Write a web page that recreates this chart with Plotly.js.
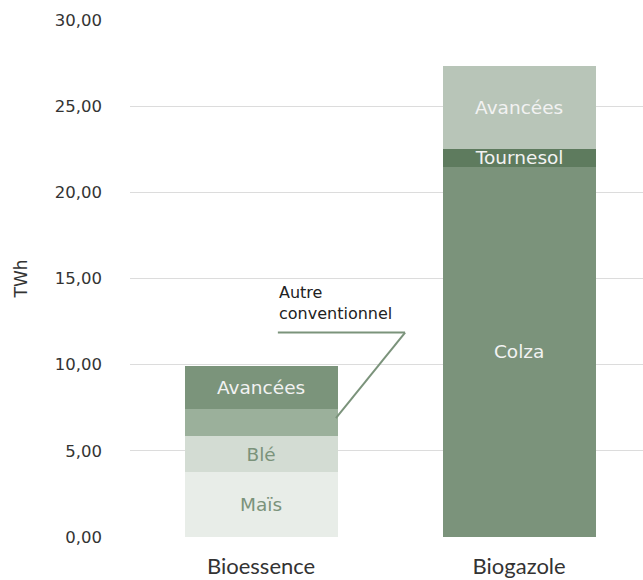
<!DOCTYPE html>
<html><head><meta charset="utf-8">
<script src="https://cdn.plot.ly/plotly-3.0.1.min.js"></script>
<style>html,body{margin:0;padding:0;background:#fff;}#chart{width:643px;height:580px;}</style>
</head><body><div id="chart"></div>
<script>
const categories = ["Bioessence", "Biogazole"];
const mais = [3.77, null];
const ble = [2.09, null];
const autreConv = [1.57, null];
const avanceesEss = [2.49, null];
const colza = [null, 21.49];
const tournesol = [null, 1.05];
const avanceesGaz = [null, 4.81];
const yTicks = [0, 5, 10, 15, 20, 25, 30];
const yTickLabels = ["0,00", "5,00", "10,00", "15,00", "20,00", "25,00", "30,00"];

function seg(name, vals, color, label, txtColor) {
  return {
    type: "bar", name: name, x: categories, y: vals,
    marker: {color: color, line: {width: 0}},
    text: vals.map(v => v == null ? "" : label),
    textposition: label ? "inside" : "none",
    insidetextanchor: "middle",
    textfont: {family: "'DejaVu Sans', sans-serif", size: 18.5, color: txtColor},
    hoverinfo: "name+y", width: 0.593
  };
}
const data = [
  seg("Maïs", mais, "#e8ede8", "Maïs", "#7b937b"),
  seg("Blé", ble, "#d3dcd3", "Blé", "#7b937b"),
  seg("Autre conventionnel", autreConv, "#9bb09b", "", "#fff"),
  seg("Avancées", avanceesEss, "#7b947b", "Avancées", "#f2f2f2"),
  seg("Colza", colza, "#7b937b", "Colza", "#f2f2f2"),
  seg("Tournesol", tournesol, "#5e7b5e", "Tournesol", "#f2f2f2"),
  seg("Avancées ", avanceesGaz, "#b8c5b8", "Avancées", "#f2f2f2")
];
const layout = {
  width: 643, height: 580,
  margin: {l: 130, r: 0, t: 20, b: 43},
  paper_bgcolor: "#fff", plot_bgcolor: "#fff",
  barmode: "stack", showlegend: false,
  uniformtext: {mode: "show", minsize: 18.5},
  font: {family: "'DejaVu Sans', sans-serif", color: "#333"},
  xaxis: {
    range: [-0.508, 1.48], showgrid: false, zeroline: false, showline: false,
    tickfont: {family: "Lato, sans-serif", size: 22, color: "#333"}, ticks: "", ticklabelstandoff: 14
  },
  yaxis: {
    range: [0, 30], tickvals: yTicks, ticktext: yTickLabels,
    showgrid: true, gridcolor: "#dcdcdc", gridwidth: 1, zeroline: false, showline: false,
    tickfont: {family: "'DejaVu Sans', sans-serif", size: 16.5, color: "#333"},
    ticks: "", ticklabelstandoff: 27,
    title: {text: "TWh", font: {family: "'DejaVu Sans', sans-serif", size: 17, color: "#333"}, standoff: 22}
  },
  shapes: [
    {type: "line", xref: "x", yref: "y", x0: 0.065, y0: 11.86, x1: 0.558, y1: 11.86, line: {color: "#7b937b", width: 2}},
    {type: "line", xref: "x", yref: "y", x0: 0.558, y0: 11.86, x1: 0.29, y1: 6.9, line: {color: "#7b937b", width: 2}}
  ],
  annotations: [
    {xref: "x", yref: "y", x: 0.06, y: 13.58, xanchor: "left", yanchor: "middle", align: "left", showarrow: false,
     text: "Autre<br>conventionnel", font: {family: "'DejaVu Sans', sans-serif", size: 16, color: "#222"}}
  ]
};
Plotly.newPlot("chart", data, layout, {displayModeBar: false, staticPlot: true});
</script></body></html>
